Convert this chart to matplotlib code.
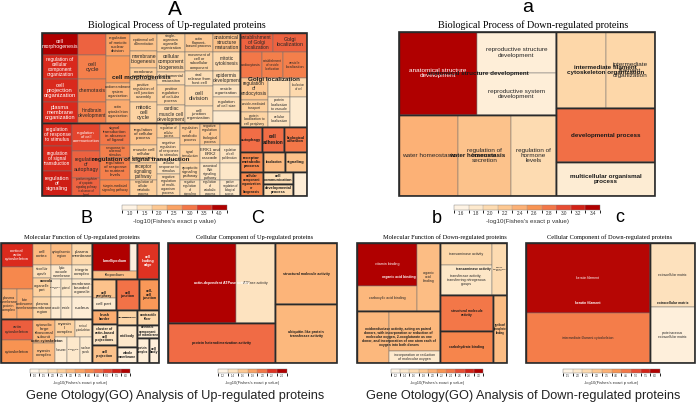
import textwrap
import numpy as np
import matplotlib
matplotlib.use("Agg")
import matplotlib as mpl
import matplotlib.pyplot as plt
from matplotlib.patches import Rectangle
from matplotlib.colors import (LinearSegmentedColormap, ListedColormap,
                               BoundaryNorm, Normalize, to_rgb)

plt.rcParams['font.family'] = ['Liberation Sans', 'DejaVu Sans']

W, H, DPI = 696, 405, 100
HEAT = ["#fef3e4", "#fde6c6", "#fdd19e", "#fcb57a", "#f8904f", "#f06a45", "#dc2c1e", "#b00000"]
heat = LinearSegmentedColormap.from_list("heat", HEAT)

# ---------------- Panel A: Biological Process, up-regulated ----------------
A_tree = [[[4, 4, 4, 5, 5, 5, 6], [3, 3, 4, 4, 4, 4, 4, 4]],
          [[[2, 3, [3, 3, 2]]], [[3, 3, [1, 2, 1]]]]]
A_labels = [
    "cell morphogenesis", "regulation of cellular component organization", "cell projection organization", "plasma membrane organization",
    "", "cell cycle", "chemotaxis", "hindbrain development",
    "regulation of meiotic nuclear division", "", "endomembrane system organization", "actin cytoskeleton organization",
    "epidermal cell differentiation", "membrane biogenesis", "membrane organization", "positive regulation of cell junction assembly", "mitotic cell cycle",
    "single-organism organelle organization", "cellular component biogenesis", "developmental maturation", "positive regulation of cellular process", "cardiac muscle cell development",
    "actin filament-based process", "movement of cell or subcellular component", "viral release from host cell", "cell division", "cell junction organization",
    "anatomical structure maturation", "mitotic cytokinesis", "epidermis development", "vesicle organization", "regulation of cell size", "",
    "regulation of response to stimulus", "regulation of signal transduction", "regulation of signaling",
    "regulation of cell communication", "regulation of autophagy", "positive regulation of apoptotic signaling pathway in absence of ligand",
    "signal transduction in absence of ligand", "response to external stimulus", "regulation of response to nutrient levels", "integrin-mediated signaling pathway",
    "regulation of cellular process", "muscle cell cellular homeostasis", "receptor signaling pathway", "regulation of cellular metabolic process",
    "negative regulation of cellular process", "negative regulation of response to stimulus", "cellular response to stimulus", "negative regulation of multi-organism process",
    "regulation of metabolic process", "signal transduction", "apoptotic signaling pathway", "negative regulation of signaling",
    "negative regulation of biological process", "ERK1 and ERK2 cascade", "canonical Wnt signaling pathway", "regulation of catabolic process",
    "", "regulation of cell proliferation", "", "positive regulation of biological process",
    "establishment of Golgi localization", "Golgi localization",
    "endocytosis", "establishment of vesicle localization", "vesicle localization",
    "regulation of endocytosis", "vesicle-mediated transport", "protein localization to cell periphery",
    "", "protein localization to vacuole", "cellular localization",
    "localization of cell", "",
    "autophagy", "cell adhesion", "biological adhesion",
    "receptor metabolic process", "localization", "signaling",
    "cellular component organization or biogenesis", "cell communication", "developmental process", "",
]
A_sizes = [792, 864, 828, 756, 616, 672, 644, 588, 552, 648, 408, 552,
           486, 459, 324, 594, 567, 532, 560, 364, 560, 504,
           532, 532, 420, 560, 476, 513, 513, 378, 324, 378, 324,
           690, 750, 750, 784, 756, 504, 660, 390, 660, 480,
           594, 486, 459, 432, 345, 506, 322, 506,
           440, 360, 340, 320, 440, 360, 340, 320, 440, 360, 340, 320,
           627, 646, 572, 546, 624, 616, 336, 420, 418, 330, 330, 323, 510,
           550, 550, 575, 460, 440, 440, 552, 360, 360, 336]
A_scores = [4.0, 3.6, 3.6, 3.6, 3.2, 2.9, 2.9, 2.9, 2.5, 2.6, 2.3, 2.4,
            2.1, 2.0, 1.9, 1.9, 1.8, 1.9, 1.8, 1.7, 1.8, 1.7,
            2.0, 1.8, 1.6, 1.7, 1.6, 2.1, 1.7, 1.6, 1.5, 1.6, 1.3,
            3.6, 3.6, 3.7, 3.4, 3.2, 3.2, 3.0, 2.9, 2.9, 2.8,
            2.1, 1.9, 1.9, 1.9, 1.9, 1.7, 1.6, 1.7,
            2.0, 1.9, 1.8, 1.6, 2.0, 1.6, 1.5, 1.5, 2.1, 1.5, 1.4, 1.4,
            3.2, 3.2, 3.0, 2.9, 2.9, 2.0, 1.9, 1.8, 1.6, 1.5, 1.5, 1.7, 1.3,
            3.1, 3.1, 3.0, 2.8, 2.2, 2.1, 2.8, 1.6, 1.6, 1.2]
A_groups = ["cell morphogenesis", "regulation of signal transduction", "Golgi localization"]
A_gstart = [0, 33, 63]
A_gend = [33, 63, 76]
A_ticks = [1.0, 1.5, 2.0, 2.5, 3.0, 3.5, 4.0]

# ---------------- Panel a: Biological Process, down-regulated ----------------
a_tree = [[[1, 2], [1, 1, 1]], [[1, 1], 1, 1]]
a_labels = ["anatomical structure development", "reproductive structure development", "reproductive system development",
            "water homeostasis", "regulation of hormone secretion", "regulation of hormone levels",
            "intermediate filament cytoskeleton organization", "intermediate filament organization",
            "developmental process", "multicellular organismal process"]
a_sizes = [6474, 3239, 3318, 4779, 4293, 3645, 3800, 3724, 5346, 3366]
a_scores = [3.4, 1.7, 1.7, 2.4, 2.25, 2.0, 2.05, 2.05, 2.85, 1.75]
a_groups = ["anatomical structure development", "water homeostasis", "intermediate filament cytoskeleton organization"]
a_gstart = [0, 3, 6]
a_gend = [3, 6, 8]
a_ticks = [1.6, 1.8, 2.0, 2.2, 2.4, 2.6, 2.8, 3.0, 3.2, 3.4]

# ---------------- Panel B: Molecular Function, up-regulated ----------------
B_tree = [[[[1, 1, 2], 4, [1, 1, 2, 2], 4], [2, 2, [2, 3]]],
          [[[2, 1], 1], [2, 1, 1], [3, 3, [1, 1, 2]]]]
B_labels = ["cortical actin cytoskeleton", "caveola", "plasma membrane protein complex", "late endosome membrane",
            "cell cortex", "intracellular organelle", "organelle part", "plasma membrane region",
            "cytoplasmic region", "lytic vacuole membrane", "cytoplasmic part", "cytosol", "vacuole", "vesicle",
            "plasma membrane", "integrin complex", "membrane-bounded organelle", "nucleus",
            "actin cytoskeleton", "cytoskeleton", "cytosolic large ribosomal subunit", "myosin complex",
            "myosin II complex", "cortical cytoskeleton", "ribosome", "cytoskeletal part", "nuclear speck",
            "lamellipodium", "", "filopodium", "cell leading edge",
            "cell periphery", "cell part", "cell junction", "cell-cell junction",
            "brush border", "cluster of actin-based cell projections", "cell projection",
            "macromolecular complex", "midbody", "whole membrane",
            "contractile fiber", "extrinsic component of membrane", "protein complex", "cell body"]
B_sizes = [768, 704, 480, 480, 396, 234, 342, 396, 462, 294, 180, 198, 220, 242,
           440, 280, 360, 440, 672, 736, 528, 440, 360, 306, 312, 338, 312,
           1064, 196, 360, 792, 456, 288, 713, 620,
           350, 525, 450, 300, 440, 320, 330, 286, 300, 250]
B_scores = [5.3, 4.0, 3.3, 3.3, 3.0, 2.0, 2.4, 2.3, 3.0, 1.6, 1.5, 1.7, 1.5, 1.5,
            2.2, 1.7, 1.6, 1.4, 4.7, 3.8, 3.1, 3.0, 2.4, 1.8, 1.5, 1.6, 1.5,
            6.0, 1.2, 2.9, 5.2, 2.8, 1.5, 4.4, 3.7,
            3.3, 1.8, 2.8, 2.3, 1.6, 1.3, 2.2, 1.4, 1.3, 1.2]
B_groups = ["caveola", "actin cytoskeleton", "lamellipodium", "cell periphery"]
B_gstart = [0, 18, 27, 31]
B_gend = [18, 27, 30, 33]
B_ticks = [1.0, 1.5, 2.0, 2.5, 3.0, 3.5, 4.0, 4.5, 5.0, 5.5, 6.0]

# ---------------- Panel C: Cellular Component, up-regulated ----------------
C_tree = [[[1, 1], 1], [1, 1]]
C_labels = ["actin-dependent ATPase activity", "ATPase activity", "protein heterodimerization activity",
            "structural molecule activity", "ubiquitin-like protein transferase activity"]
C_sizes = [5440, 3120, 4280, 3782, 3658]
C_scores = [2.4, 1.4, 2.05, 1.72, 1.7]
C_groups = ["actin-dependent ATPase activity"]
C_gstart = [0]
C_gend = [2]
C_ticks = [1.2, 1.4, 1.6, 1.8, 2.0, 2.2, 2.4]

# ---------------- Panel b: Molecular Function, down-regulated ----------------
OXI = ("oxidoreductase activity, acting on paired donors, with incorporation or reduction of "
       "molecular oxygen, 2-oxoglutarate as one donor, and incorporation of one atom each "
       "of oxygen into both donors")
b_tree = [[[2, 1], [1, 2]], [[2, 1], [2, 1]]]
b_labels = ["vitamin binding", "carboxylic acid binding", "organic acid binding",
            OXI, "", "incorporation or reduction of molecular oxygen",
            "transaminase activity", "transferase activity, transferring nitrogenous groups", "alanine transaminase activity",
            "structural molecule activity", "carbohydrate binding", "pyridoxal phosphate binding"]
b_sizes = [2580, 1500, 1564, 1664, 2040, 612, 1144, 1560, 780, 1908, 1696, 952]
b_scores = [3.0, 1.95, 1.9, 1.95, 1.95, 1.4, 1.65, 1.45, 1.6, 2.4, 2.3, 1.9]
b_groups = ["organic acid binding", OXI, "transaminase activity"]
b_gstart = [0, 3, 6]
b_gend = [3, 6, 9]
b_ticks = [1.2, 1.4, 1.6, 1.8, 2.0, 2.2, 2.4, 2.6, 2.8, 3.0]

# ---------------- Panel c: Cellular Component, down-regulated ----------------
c_tree = [[1, 1], [1, 1]]
c_labels = ["keratin filament", "intermediate filament cytoskeleton",
            "extracellular matrix", "proteinaceous extracellular matrix"]
c_sizes = [8680, 6200, 2880, 2520]
c_scores = [5.9, 4.4, 2.3, 1.7]
c_groups = ["keratin filament", "extracellular matrix"]
c_gstart = [0, 2]
c_gend = [2, 4]
c_ticks = [1.5, 2.0, 2.5, 3.0, 3.5, 4.0, 4.5, 5.0, 5.5, 6.0]

# =====================================================================
fig = plt.figure(figsize=(W / DPI, H / DPI), dpi=DPI)
fig.patch.set_facecolor("white")


def px_axes(x0, y0, x1, y1):
    return fig.add_axes([x0 / W, 1 - y1 / H, (x1 - x0) / W, (y1 - y0) / H])


def build(node, it):
    if isinstance(node, int):
        return [next(it) for _ in range(node)]
    return [build(c, it) for c in node]


def total(node, sizes):
    if isinstance(node, int):
        return sizes[node]
    return sum(total(c, sizes) for c in node)


def place(node, x, y, w, h, depth, sizes, rects):
    if isinstance(node, int):
        rects[node] = (x, y, w, h)
        return
    tot = total(node, sizes)
    pos = 0.0
    for c in node:
        f = total(c, sizes) / tot
        if depth % 2 == 0:
            place(c, x + pos * w, y, f * w, h, depth + 1, sizes, rects)
        else:
            place(c, x, y + pos * h, w, f * h, depth + 1, sizes, rects)
        pos += f


def lum(c):
    r, g, b = to_rgb(c)
    return 0.2126 * r + 0.7152 * g + 0.0722 * b


def fit_text(text, wpx, hpx, fsmax, bold=False, fsmin=1.5):
    k = 0.56 if bold else 0.5
    fs = fsmax
    while True:
        fpx = fs * DPI / 72
        cpl = max(1, int((wpx - 2) / (fpx * k)))
        lines = textwrap.wrap(text, cpl, break_long_words=False) or [""]
        wmax = max(len(l) for l in lines) * fpx * k
        if (wmax <= wpx - 1 and len(lines) * fpx * 1.15 <= hpx - 1) or fs <= fsmin:
            return "\n".join(lines), fs
        fs -= 0.1


def treemap(box, tree, labels, sizes, scores, ticks, gnames, gstart, gend, leaf_fs, grp_fs):
    x0, y0, x1, y1 = box
    ax = px_axes(x0, y0, x1, y1)
    ax.set_xlim(0, 1)
    ax.set_ylim(1, 0)
    ax.axis('off')
    wpx, hpx = x1 - x0, y1 - y0
    t = build(tree, iter(range(len(labels))))
    rects = {}
    place(t, 0.0, 0.0, 1.0, 1.0, 0, sizes, rects)
    norm = Normalize(ticks[0], ticks[-1])
    cols = [heat(norm(s)) for s in scores]
    for i, (x, y, w, h) in rects.items():
        ax.add_patch(Rectangle((x, y), w, h, facecolor=cols[i], edgecolor='#707070', lw=0.35))

    def cell_at(px, py):
        for i, (x, y, w, h) in rects.items():
            if x <= px <= x + w and y <= py <= y + h:
                return i
        return 0

    groups = []
    grouped = {}
    for n, a, b in zip(gnames, gstart, gend):
        xs = [rects[i][0] for i in range(a, b)]
        ys = [rects[i][1] for i in range(a, b)]
        xe = [rects[i][0] + rects[i][2] for i in range(a, b)]
        ye = [rects[i][1] + rects[i][3] for i in range(a, b)]
        bb = (min(xs), min(ys), max(xe) - min(xs), max(ye) - min(ys))
        groups.append((n, bb, False))
        for i in range(a, b):
            grouped[i] = (n, bb)
    for i in range(len(labels)):
        if i not in grouped:
            groups.append((labels[i], rects[i], True))

    # leaf labels
    for i, (x, y, w, h) in rects.items():
        if not labels[i] or i not in grouped:
            continue
        gname, (gx, gy, gw, gh) = grouped[i]
        cx, cy = x + w / 2, y + h / 2
        if labels[i] == gname and abs((cx - gx - gw / 2) * wpx) < 30 and abs((cy - gy - gh / 2) * hpx) < 8:
            continue
        txt, fs = fit_text(labels[i], w * wpx, h * hpx, leaf_fs)
        tc = 'white' if lum(cols[i]) < 0.45 else '#262626'
        ax.text(cx, cy, txt, ha='center', va='center', fontsize=fs, color=tc, linespacing=1.0)

    # group borders and labels
    for name, (gx, gy, gw, gh), single in groups:
        ax.add_patch(Rectangle((gx, gy), gw, gh, fill=False, edgecolor='#2a2a2a', lw=1.0))
        if not name:
            continue
        cx, cy = gx + gw / 2, gy + gh / 2
        if single:
            txt, fs = fit_text(name, gw * wpx, gh * hpx, grp_fs, bold=True)
        else:
            fs = grp_fs
            fpx = fs * DPI / 72
            cpl = max(1, int(gw * wpx / (fpx * 0.56)))
            txt = textwrap.fill(name, cpl)
        tc = 'white' if lum(cols[cell_at(cx, cy)]) < 0.45 else '#1a1a1a'
        ax.text(cx, cy, txt, ha='center', va='center', fontsize=fs, color=tc,
                fontweight='bold', linespacing=1.0)
    ax.add_patch(Rectangle((0, 0), 1, 1, fill=False, edgecolor='#2a2a2a', lw=1.2, clip_on=False))


def colorbar(box, ticks, fs_tick, fs_lab, labpad):
    x0, y0, x1, y1 = box
    cax = px_axes(x0, y0, x1, y1)
    n = len(ticks)
    step = ticks[1] - ticks[0]
    bounds = np.concatenate([[ticks[0] - step / 2], np.array(ticks) + step / 2])
    cmap = ListedColormap(heat(np.linspace(0, 1, n)))
    norm = BoundaryNorm(bounds, n)
    cb = mpl.colorbar.ColorbarBase(cax, cmap=cmap, norm=norm, orientation='horizontal',
                                   ticks=ticks, drawedges=True)
    cb.outline.set_linewidth(0.3)
    cb.outline.set_edgecolor('#777777')
    cb.dividers.set_linewidth(0.3)
    cb.dividers.set_color('#999999')
    cax.tick_params(length=0, pad=0.6, labelsize=fs_tick, colors='#333333')
    cax.set_xticklabels([f"{v:.1f}" for v in ticks])
    cax.set_xlabel("-log10(Fishes's exact p value)", fontsize=fs_lab, labelpad=labpad, color='#333333')


treemap((42, 33, 307, 196), A_tree, A_labels, A_sizes, A_scores, A_ticks,
        A_groups, A_gstart, A_gend, 4.2, 4.5)
treemap((399, 32, 655, 196), a_tree, a_labels, a_sizes, a_scores, a_ticks,
        a_groups, a_gstart, a_gend, 4.6, 4.5)
treemap((1, 243, 159, 363), B_tree, B_labels, B_sizes, B_scores, B_ticks,
        B_groups, B_gstart, B_gend, 3.2, 2.6)
treemap((168, 243, 337, 363), C_tree, C_labels, C_sizes, C_scores, C_ticks,
        C_groups, C_gstart, C_gend, 2.6, 2.6)
treemap((357, 243, 507, 363), b_tree, b_labels, b_sizes, b_scores, b_ticks,
        b_groups, b_gstart, b_gend, 2.6, 2.4)
treemap((526, 243, 695, 363), c_tree, c_labels, c_sizes, c_scores, c_ticks,
        c_groups, c_gstart, c_gend, 2.4, 2.4)

colorbar((122, 205, 227, 210), A_ticks, 3.3, 4.5, 0.8)
colorbar((454, 205, 600, 210), a_ticks, 3.3, 4.5, 0.8)
colorbar((30, 369, 130, 373), B_ticks, 2.0, 3.0, 0.5)
colorbar((218, 369, 287, 373), C_ticks, 2.0, 3.0, 0.5)
colorbar((391, 369, 483, 373), b_ticks, 2.0, 3.0, 0.5)
colorbar((563, 369, 660, 373), c_ticks, 2.0, 3.0, 0.5)


def ftext(x, y, s, **kw):
    fig.text(x / W, 1 - y / H, s, **kw)


serif = ['Liberation Serif', 'DejaVu Serif']
ftext(175, 15, "A", fontsize=15, ha='center', va='baseline')
ftext(528, 12, "a", fontsize=14, ha='center', va='baseline')
ftext(87, 223, "B", fontsize=13, ha='center', va='baseline')
ftext(258, 223, "C", fontsize=13, ha='center', va='baseline')
ftext(437, 223, "b", fontsize=13, ha='center', va='baseline')
ftext(620, 222, "c", fontsize=13, ha='center', va='baseline')

ftext(177, 28, "Biological Process of Up-regulated proteins", fontsize=7.3, family=serif, ha='center', va='baseline')
ftext(533, 28, "Biological Process of Down-regulated proteins", fontsize=7.3, family=serif, ha='center', va='baseline')
ftext(82, 239, "Molecular Function of Up-regulated proteins", fontsize=4.6, family=serif, ha='center', va='baseline')
ftext(255, 239, "Cellular Component of Up-regulated proteins", fontsize=4.6, family=serif, ha='center', va='baseline')
ftext(445, 239, "Molecular Function of Down-regulated proteins", fontsize=4.6, family=serif, ha='center', va='baseline')
ftext(610, 239, "Cellular Component of Down-regulated proteins", fontsize=4.6, family=serif, ha='center', va='baseline')

ftext(175, 399, "Gene Otology(GO) Analysis of Up-regulated proteins", fontsize=9.2, ha='center', va='baseline', color='#222222')
ftext(523, 399, "Gene Otology(GO) Analysis of Down-regulated proteins", fontsize=9.2, ha='center', va='baseline', color='#222222')

fig.savefig("out.png", dpi=DPI, facecolor="white")
